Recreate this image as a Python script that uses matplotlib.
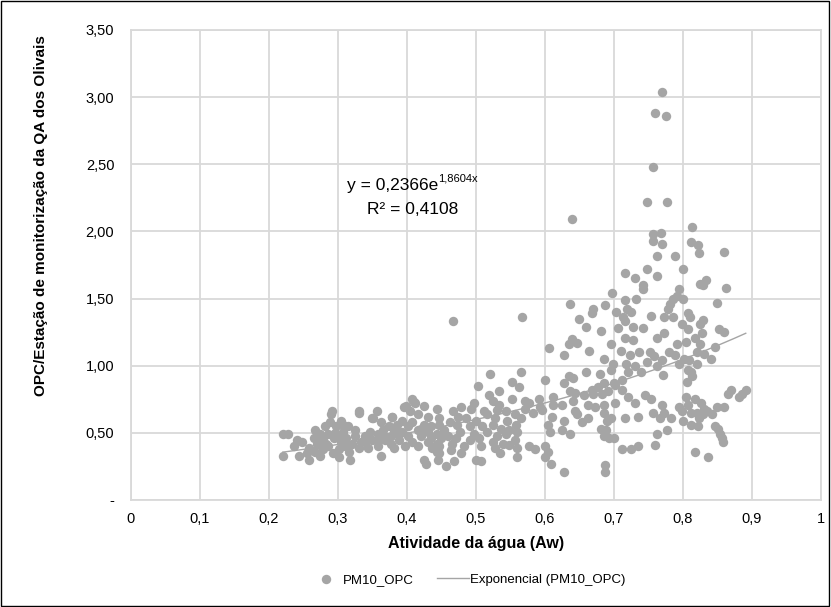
import numpy as np
import matplotlib as mpl
import matplotlib.pyplot as plt
from matplotlib.patches import Rectangle

mpl.rcParams['font.family'] = ['Liberation Sans', 'DejaVu Sans']

# PM10_OPC, por faixa de atividade da agua
aw_a = [0.220, 0.228, 0.220, 0.243, 0.255, 0.236, 0.240, 0.248, 0.258, 0.258,
        0.266, 0.270, 0.266, 0.270, 0.278, 0.279, 0.274, 0.285, 0.286, 0.289,
        0.290, 0.291, 0.297, 0.294, 0.293, 0.301, 0.304, 0.307, 0.308, 0.312,
        0.316, 0.317, 0.320, 0.324, 0.325, 0.330, 0.334, 0.301, 0.281, 0.274,
        0.314, 0.304, 0.330, 0.282, 0.296, 0.310, 0.265, 0.300]
ratio_a = [0.49, 0.49, 0.33, 0.33, 0.35, 0.40, 0.45, 0.43, 0.39, 0.30,
           0.36, 0.42, 0.52, 0.48, 0.45, 0.38, 0.33, 0.40, 0.49, 0.58,
           0.64, 0.66, 0.55, 0.46, 0.35, 0.38, 0.43, 0.51, 0.56, 0.46,
           0.36, 0.30, 0.42, 0.52, 0.48, 0.39, 0.43, 0.32, 0.55, 0.49,
           0.55, 0.59, 0.66, 0.42, 0.50, 0.40, 0.46, 0.47]

aw_b = [0.407, 0.412, 0.425, 0.396, 0.443, 0.404, 0.416, 0.431, 0.447, 0.378,
        0.393, 0.408, 0.424, 0.435, 0.447, 0.385, 0.401, 0.374, 0.362, 0.350,
        0.356, 0.331, 0.366, 0.381, 0.393, 0.416, 0.430, 0.443, 0.347, 0.358,
        0.377, 0.401, 0.420, 0.435, 0.450, 0.339, 0.350, 0.368, 0.389, 0.408,
        0.430, 0.443, 0.377, 0.397, 0.416, 0.358, 0.381, 0.437, 0.447, 0.362,
        0.339, 0.343, 0.351, 0.378, 0.399, 0.410, 0.358, 0.370, 0.388, 0.420]
ratio_b = [0.75, 0.72, 0.70, 0.69, 0.68, 0.66, 0.64, 0.62, 0.61, 0.62,
           0.59, 0.58, 0.56, 0.55, 0.56, 0.56, 0.55, 0.55, 0.58, 0.61,
           0.66, 0.65, 0.52, 0.52, 0.51, 0.52, 0.51, 0.49, 0.51, 0.49,
           0.48, 0.48, 0.48, 0.46, 0.46, 0.48, 0.45, 0.45, 0.45, 0.43,
           0.43, 0.42, 0.42, 0.40, 0.40, 0.40, 0.39, 0.39, 0.35, 0.33,
           0.43, 0.39, 0.61, 0.62, 0.70, 0.73, 0.44, 0.47, 0.49, 0.53]

aw_c = [0.467, 0.567, 0.521, 0.503, 0.552, 0.566, 0.563, 0.533, 0.519, 0.524,
        0.552, 0.571, 0.497, 0.479, 0.493, 0.467, 0.511, 0.531, 0.533, 0.543,
        0.516, 0.557, 0.474, 0.485, 0.500, 0.528, 0.545, 0.558, 0.566, 0.462,
        0.473, 0.491, 0.509, 0.524, 0.537, 0.548, 0.454, 0.477, 0.497, 0.516,
        0.531, 0.543, 0.560, 0.460, 0.471, 0.491, 0.504, 0.524, 0.539, 0.556,
        0.466, 0.482, 0.508, 0.528, 0.548, 0.560, 0.464, 0.478, 0.535, 0.559,
        0.500, 0.508, 0.456, 0.468, 0.445, 0.424, 0.428, 0.443, 0.447, 0.577,
        0.585]
ratio_c = [1.33, 1.36, 0.94, 0.85, 0.88, 0.95, 0.84, 0.81, 0.78, 0.74,
           0.75, 0.74, 0.72, 0.69, 0.68, 0.66, 0.66, 0.67, 0.71, 0.66,
           0.64, 0.64, 0.62, 0.61, 0.59, 0.61, 0.59, 0.56, 0.61, 0.58,
           0.56, 0.55, 0.55, 0.56, 0.53, 0.52, 0.52, 0.51, 0.49, 0.51,
           0.48, 0.49, 0.51, 0.48, 0.46, 0.45, 0.46, 0.43, 0.42, 0.45,
           0.42, 0.40, 0.40, 0.39, 0.41, 0.39, 0.37, 0.35, 0.35, 0.32,
           0.30, 0.29, 0.25, 0.29, 0.30, 0.30, 0.27, 0.36, 0.40, 0.40,
           0.38]

aw_d = [0.769, 0.759, 0.775, 0.757, 0.748, 0.777, 0.639, 0.813, 0.768, 0.756,
        0.756, 0.769, 0.812, 0.822, 0.823, 0.859, 0.763, 0.789, 0.800, 0.748,
        0.716, 0.762, 0.730, 0.833, 0.825, 0.829, 0.862, 0.742, 0.742, 0.795,
        0.697, 0.792, 0.785, 0.732, 0.716, 0.687, 0.637, 0.850, 0.781, 0.800,
        0.719, 0.724, 0.703, 0.670, 0.808, 0.779, 0.772, 0.785, 0.810, 0.754,
        0.713, 0.716, 0.650, 0.668, 0.829, 0.798, 0.825, 0.742, 0.727, 0.660,
        0.681, 0.706, 0.808, 0.828, 0.852, 0.859, 0.772, 0.818, 0.762, 0.639,
        0.727, 0.646, 0.635, 0.695, 0.792, 0.805, 0.825, 0.716, 0.846, 0.606,
        0.664, 0.710, 0.737, 0.752, 0.821, 0.831, 0.780, 0.628, 0.723, 0.789,
        0.758, 0.841, 0.685, 0.802, 0.769, 0.809, 0.748, 0.821, 0.794, 0.718,
        0.698, 0.731, 0.808, 0.812, 0.763, 0.696, 0.720, 0.739, 0.659, 0.635,
        0.680, 0.813, 0.771, 0.711, 0.806, 0.641, 0.600, 0.700, 0.685, 0.628,
        0.677, 0.702, 0.668, 0.637, 0.692, 0.683, 0.669, 0.656, 0.643, 0.712,
        0.745, 0.754, 0.805, 0.818, 0.850, 0.859, 0.866, 0.870, 0.891, 0.885,
        0.881, 0.720, 0.640, 0.611, 0.592, 0.612, 0.624, 0.593, 0.595, 0.577,
        0.571, 0.582, 0.644, 0.662, 0.685, 0.673, 0.702, 0.731, 0.769, 0.794,
        0.808, 0.826, 0.831, 0.835, 0.798, 0.812, 0.820, 0.829, 0.842, 0.756,
        0.773, 0.767, 0.685, 0.663, 0.646, 0.716, 0.735, 0.610, 0.627, 0.604,
        0.608, 0.654, 0.696, 0.690, 0.782, 0.800, 0.812, 0.822, 0.823, 0.846,
        0.851, 0.856, 0.858, 0.853, 0.777, 0.763, 0.689, 0.685, 0.693, 0.700,
        0.681, 0.637, 0.625, 0.760, 0.712, 0.725, 0.735, 0.600, 0.604, 0.600,
        0.609, 0.628, 0.687, 0.687, 0.818, 0.836]
ratio_d = [3.04, 2.88, 2.86, 2.48, 2.22, 2.22, 2.09, 2.03, 1.99, 1.98,
           1.93, 1.91, 1.92, 1.90, 1.84, 1.85, 1.82, 1.82, 1.72, 1.72,
           1.69, 1.67, 1.65, 1.64, 1.61, 1.60, 1.58, 1.60, 1.57, 1.57,
           1.54, 1.52, 1.50, 1.50, 1.49, 1.45, 1.46, 1.47, 1.46, 1.50,
           1.42, 1.40, 1.40, 1.42, 1.39, 1.42, 1.36, 1.36, 1.36, 1.37,
           1.36, 1.33, 1.35, 1.39, 1.34, 1.31, 1.31, 1.28, 1.29, 1.29,
           1.26, 1.28, 1.27, 1.24, 1.27, 1.25, 1.24, 1.21, 1.21, 1.20,
           1.19, 1.17, 1.16, 1.16, 1.16, 1.18, 1.16, 1.21, 1.14, 1.13,
           1.11, 1.11, 1.10, 1.10, 1.10, 1.09, 1.10, 1.08, 1.08, 1.08,
           1.07, 1.05, 1.05, 1.05, 1.04, 1.04, 1.03, 1.01, 1.01, 1.01,
           1.01, 1.00, 0.97, 0.95, 1.00, 0.97, 0.95, 0.95, 0.95, 0.92,
           0.94, 0.92, 0.93, 0.89, 0.88, 0.91, 0.89, 0.87, 0.87, 0.87,
           0.84, 0.86, 0.82, 0.81, 0.81, 0.79, 0.79, 0.78, 0.80, 0.82,
           0.78, 0.75, 0.77, 0.75, 0.69, 0.69, 0.79, 0.82, 0.82, 0.79,
           0.77, 0.77, 0.74, 0.77, 0.75, 0.71, 0.71, 0.69, 0.67, 0.72,
           0.68, 0.65, 0.66, 0.71, 0.71, 0.69, 0.72, 0.72, 0.71, 0.69,
           0.71, 0.72, 0.68, 0.66, 0.66, 0.65, 0.65, 0.64, 0.64, 0.65,
           0.65, 0.61, 0.65, 0.61, 0.64, 0.61, 0.62, 0.62, 0.59, 0.56,
           0.51, 0.58, 0.61, 0.59, 0.61, 0.59, 0.56, 0.55, 0.61, 0.55,
           0.53, 0.46, 0.43, 0.49, 0.52, 0.49, 0.52, 0.48, 0.46, 0.46,
           0.53, 0.49, 0.52, 0.41, 0.38, 0.38, 0.40, 0.40, 0.36, 0.32,
           0.27, 0.21, 0.26, 0.21, 0.36, 0.32]

# linha de tendencia exponencial (Excel)
coef_a = 0.2366
coef_b = 1.8604
r2 = 0.4108

x_ticks = [0, 0.1, 0.2, 0.3, 0.4, 0.5, 0.6, 0.7, 0.8, 0.9, 1.0]
x_labels = ['0', '0,1', '0,2', '0,3', '0,4', '0,5', '0,6', '0,7', '0,8', '0,9', '1']
y_ticks = [0, 0.5, 1.0, 1.5, 2.0, 2.5, 3.0, 3.5]
y_labels = ['-', '0,50', '1,00', '1,50', '2,00', '2,50', '3,00', '3,50']

aw = np.array(aw_a + aw_b + aw_c + aw_d)
ratio = np.array(ratio_a + ratio_b + ratio_c + ratio_d)

cinza = '#A5A5A5'
grelha = '#D9D9D9'

fig = plt.figure(figsize=(8.31, 6.07), dpi=100)
ax = fig.add_axes([0.1576, 0.1763, 0.8303, 0.7743])

ax.scatter(aw, ratio, s=46, color=cinza, linewidths=0, label='PM10_OPC', zorder=3)
xt = np.linspace(aw.min(), aw.max(), 200)
ax.plot(xt, coef_a * np.exp(coef_b * xt), color=cinza, lw=1.0,
        label='Exponencial (PM10_OPC)', zorder=4)

ax.set_xlim(0, 1)
ax.set_ylim(0, 3.5)
ax.set_xticks(x_ticks)
ax.set_xticklabels(x_labels)
ax.set_yticks(y_ticks)
ax.set_yticklabels(y_labels)
ax.grid(True, color=grelha, lw=1.3)
ax.set_axisbelow(True)
for s in ax.spines.values():
    s.set_color(grelha)
    s.set_linewidth(1.3)
ax.tick_params(length=0, labelsize=10.5, colors='#000000')
ax.tick_params(axis='y', pad=12)
ax.tick_params(axis='x', pad=9)

ax.set_xlabel('Atividade da água (Aw)', fontsize=11.5, fontweight='bold', labelpad=7)
ax.set_ylabel('OPC/Estação de monitorização da QA dos Olivais', fontsize=11,
              fontweight='bold')
ax.yaxis.set_label_coords(-0.12, 0.605)

t1 = ax.text(0.313, 2.34, 'y = 0,2366e', fontsize=12.5, ha='left', va='center')
ax.annotate('1,8604x', xy=(1.0, 0.62), xycoords=t1, fontsize=8,
            ha='left', va='bottom')
ax.text(0.408, 2.165, 'R² = ' + f'{r2:.4f}'.replace('.', ','), fontsize=12.5,
        ha='center', va='center')

fig.legend(loc='center', bbox_to_anchor=(0.563, 0.045), ncol=2, frameon=False,
           fontsize=9.5, handlelength=2.4, columnspacing=1.8, handletextpad=0.1)

fig.patches.append(Rectangle((0.001, 0.002), 0.997, 0.996, transform=fig.transFigure,
                             fill=False, edgecolor='black', lw=1.0))

fig.savefig('out.png', dpi=100)
